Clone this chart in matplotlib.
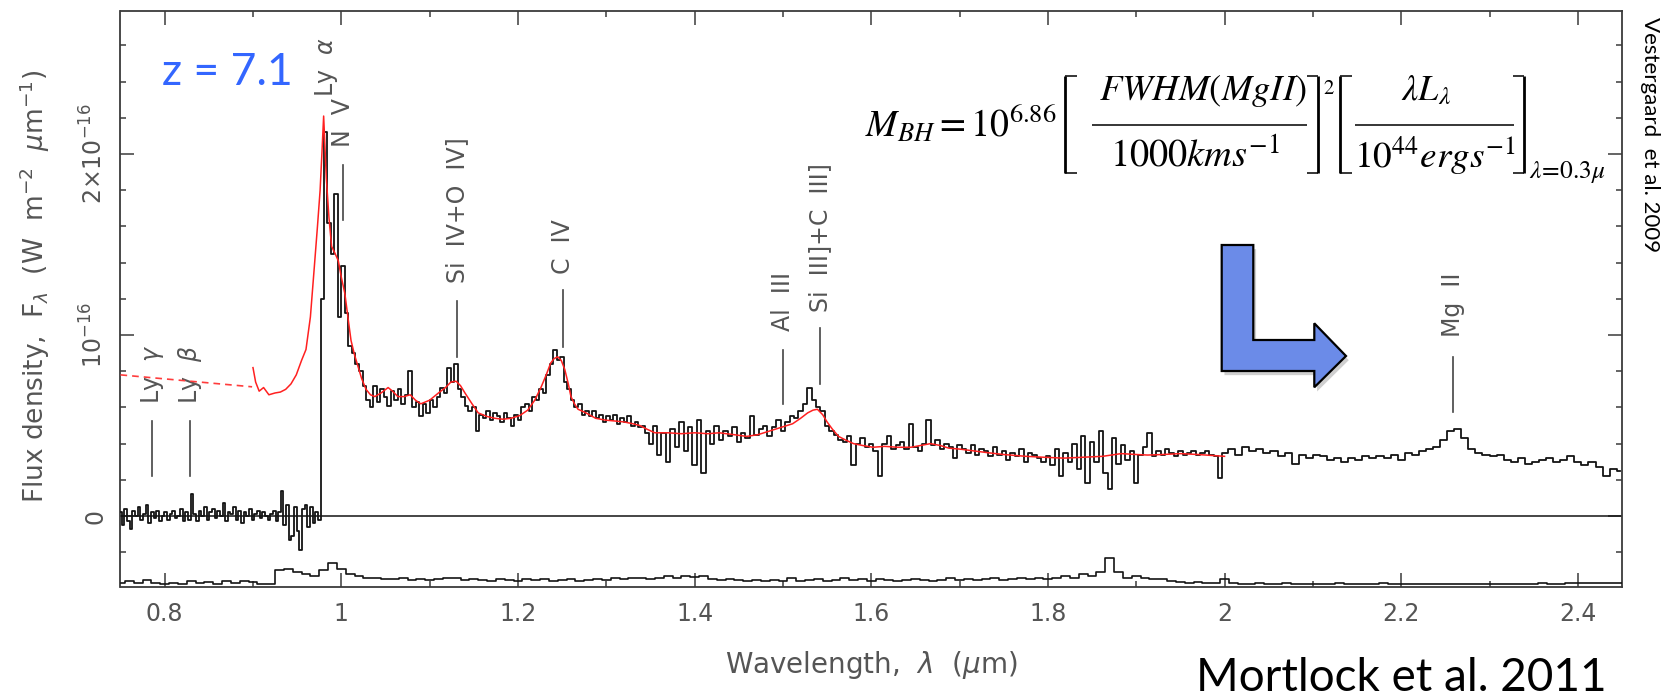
import numpy as np
import matplotlib
matplotlib.use("Agg")
import matplotlib.pyplot as plt
from matplotlib.patches import Polygon
from matplotlib.lines import Line2D
from matplotlib.ticker import MultipleLocator, FixedLocator, FuncFormatter
import matplotlib.patheffects as pe

plt.rcParams['font.family'] = ['DejaVu Sans']
plt.rcParams['mathtext.fontset'] = 'dejavusans'

# ---------------------------------------------------------------------------
# Observed spectrum of the z = 7.1 quasar, F_lambda in units of 1e-16 W m^-2 um^-1
# Each segment: (first wavelength, last wavelength) in um and the binned fluxes.
# ---------------------------------------------------------------------------
opt_range = (0.750, 0.975)
flux_opt = [0.02, -0.05, 0.04, -0.03, -0.07, 0.03, 0.00, 0.05, -0.02, 0.01,
            0.06, -0.04, 0.02, -0.01, 0.03, -0.03, 0.00, 0.02, -0.02, 0.01,
            0.03, -0.01, 0.00, 0.04, -0.03, 0.02, -0.02, 0.12, 0.01, -0.03,
            0.03, 0.00, 0.05, -0.02, 0.02, 0.04, -0.01, 0.03, 0.00, 0.07,
            -0.03, 0.02, 0.01, 0.05, -0.02, 0.03, -0.04, 0.02, 0.00, 0.04,
            -0.02, 0.01, 0.03, -0.01, 0.02, 0.00, -0.02, 0.01, 0.03, -0.03,
            0.02, 0.14, -0.05, 0.06, -0.13, -0.11, 0.05, -0.08, -0.19, 0.04,
            0.06, -0.06, 0.05, -0.04, 0.02, -0.02]

j_range = (0.978, 1.346)
flux_j = [1.20, 2.12, 1.62, 1.45, 1.78, 1.10, 1.38, 1.12, 0.94, 0.90,
          0.84, 0.80, 0.72, 0.64, 0.60, 0.72, 0.63, 0.70, 0.66, 0.61,
          0.69, 0.64, 0.70, 0.62, 0.67, 0.80, 0.60, 0.63, 0.55, 0.62,
          0.57, 0.64, 0.60, 0.66, 0.71, 0.68, 0.82, 0.74, 0.84, 0.70,
          0.66, 0.61, 0.58, 0.60, 0.47, 0.56, 0.54, 0.58, 0.53, 0.57,
          0.55, 0.52, 0.57, 0.54, 0.50, 0.56, 0.53, 0.60, 0.62, 0.58,
          0.66, 0.64, 0.70, 0.68, 0.78, 0.84, 0.92, 0.86, 0.88, 0.74,
          0.70, 0.64, 0.60, 0.62, 0.56, 0.58, 0.55, 0.58, 0.54, 0.56,
          0.52, 0.55, 0.53, 0.56, 0.51, 0.54, 0.52, 0.55, 0.50, 0.52,
          0.49, 0.50, 0.46]

h_range = (1.350, 1.795)
flux_h = [0.40, 0.50, 0.34, 0.46, 0.30, 0.48, 0.38, 0.52, 0.36, 0.49,
          0.28, 0.53, 0.24, 0.47, 0.40, 0.50, 0.42, 0.47, 0.44, 0.49,
          0.41, 0.46, 0.43, 0.55, 0.45, 0.48, 0.50, 0.44, 0.49, 0.53,
          0.47, 0.52, 0.55, 0.54, 0.58, 0.62, 0.71, 0.64, 0.60, 0.58,
          0.50, 0.47, 0.45, 0.42, 0.41, 0.44, 0.28, 0.40, 0.43, 0.38,
          0.40, 0.36, 0.22, 0.40, 0.44, 0.37, 0.39, 0.41, 0.37, 0.51,
          0.38, 0.36, 0.40, 0.53, 0.39, 0.42, 0.37, 0.40, 0.38, 0.32,
          0.39, 0.37, 0.35, 0.39, 0.34, 0.37, 0.36, 0.33, 0.38, 0.34,
          0.36, 0.31, 0.35, 0.33, 0.37, 0.30, 0.35, 0.34, 0.32, 0.30]

k1_range = (1.800, 1.995)
flux_k1 = [0.33, 0.28, 0.37, 0.22, 0.35, 0.30, 0.40, 0.26, 0.44, 0.18,
           0.41, 0.30, 0.47, 0.24, 0.15, 0.43, 0.29, 0.39, 0.31, 0.36,
           0.18, 0.34, 0.38, 0.46, 0.33, 0.36, 0.34, 0.37, 0.35, 0.33,
           0.36, 0.34, 0.35, 0.36, 0.34, 0.35, 0.36, 0.34, 0.33, 0.21]

k2_range = (2.000, 2.448)
flux_k2 = [0.35, 0.37, 0.34, 0.38, 0.36, 0.37, 0.35, 0.36, 0.33, 0.35,
           0.29, 0.34, 0.32, 0.34, 0.33, 0.31, 0.32, 0.30, 0.32, 0.31,
           0.33, 0.32, 0.33, 0.32, 0.34, 0.31, 0.35, 0.34, 0.36, 0.37,
           0.38, 0.42, 0.47, 0.48, 0.43, 0.37, 0.35, 0.34, 0.33, 0.34,
           0.31, 0.30, 0.32, 0.29, 0.30, 0.31, 0.32, 0.30, 0.31, 0.33,
           0.30, 0.28, 0.30, 0.27, 0.22, 0.26, 0.25]

# 1-sigma noise spectrum, drawn along the bottom of the panel
sigma_range = (0.75, 2.45)
sigma = [0.020, 0.030, 0.020, 0.035, 0.020, 0.015, 0.020, 0.015, 0.030, 0.020,
         0.025, 0.015, 0.030, 0.020, 0.030, 0.025, 0.015, 0.015, 0.090, 0.100,
         0.080, 0.070, 0.060, 0.090, 0.130, 0.100, 0.070, 0.060, 0.050, 0.045,
         0.040, 0.040, 0.050, 0.035, 0.040, 0.035, 0.040, 0.050, 0.045, 0.035,
         0.040, 0.035, 0.030, 0.040, 0.035, 0.030, 0.040, 0.035, 0.040, 0.030,
         0.035, 0.040, 0.030, 0.035, 0.040, 0.035, 0.045, 0.040, 0.050, 0.045,
         0.040, 0.050, 0.060, 0.045, 0.060, 0.055, 0.060, 0.040, 0.035, 0.040,
         0.035, 0.030, 0.035, 0.030, 0.035, 0.030, 0.045, 0.030, 0.035, 0.040,
         0.030, 0.035, 0.050, 0.035, 0.040, 0.030, 0.040, 0.035, 0.030, 0.035,
         0.040, 0.035, 0.030, 0.035, 0.045, 0.035, 0.040, 0.035, 0.040, 0.045,
         0.035, 0.040, 0.050, 0.040, 0.045, 0.040, 0.050, 0.060, 0.050, 0.070,
         0.060, 0.080, 0.160, 0.080, 0.050, 0.060, 0.050, 0.040, 0.040, 0.030,
         0.025, 0.020, 0.025, 0.020, 0.020, 0.040, 0.020, 0.015, 0.015, 0.018,
         0.015, 0.015, 0.018, 0.015, 0.015, 0.012, 0.015, 0.015, 0.018, 0.015,
         0.012, 0.015, 0.015, 0.018, 0.015, 0.015, 0.012, 0.015, 0.015, 0.012,
         0.015, 0.012, 0.015, 0.015, 0.012, 0.015, 0.015, 0.012, 0.015, 0.015,
         0.015, 0.018, 0.015, 0.015, 0.020, 0.018, 0.022, 0.020, 0.018, 0.020,
         0.022]
sigma_offset = -0.39

# Composite low-redshift quasar template (red); dashed where it is extrapolated
template_wl = [0.900, 0.903, 0.907, 0.912, 0.918, 0.925, 0.931, 0.937, 0.943, 0.949,
               0.955, 0.960, 0.965, 0.9695, 0.973, 0.976, 0.978, 0.980, 0.983, 0.986,
               0.989, 0.993, 0.9966, 1.000, 1.004, 1.008, 1.011, 1.015, 1.019, 1.023,
               1.028, 1.033, 1.038, 1.045, 1.053, 1.058, 1.064, 1.071, 1.078, 1.084,
               1.090, 1.100, 1.110, 1.118, 1.124, 1.130, 1.135, 1.140, 1.148, 1.155,
               1.165, 1.174, 1.183, 1.192, 1.202, 1.211, 1.219, 1.226, 1.232, 1.237,
               1.241, 1.245, 1.249, 1.253, 1.257, 1.260, 1.264, 1.268, 1.277, 1.288,
               1.299, 1.310, 1.320, 1.330, 1.338, 1.346, 1.355, 1.370, 1.385, 1.400,
               1.415, 1.428, 1.444, 1.459, 1.472, 1.485, 1.498, 1.511, 1.520, 1.528,
               1.534, 1.539, 1.545, 1.550, 1.556, 1.563, 1.571, 1.580, 1.590, 1.602,
               1.615, 1.630, 1.645, 1.656, 1.667, 1.678, 1.688, 1.700, 1.716, 1.732,
               1.750, 1.775, 1.795, 1.818, 1.840, 1.862, 1.883, 1.900, 1.913, 1.930,
               1.950, 1.970, 1.985, 2.000]
template_flux = [0.82, 0.74, 0.69, 0.71, 0.67, 0.68, 0.685, 0.70, 0.73, 0.78,
                 0.86, 0.92, 1.10, 1.38, 1.60, 1.80, 2.00, 2.21, 1.87, 1.65,
                 1.49, 1.45, 1.41, 1.32, 1.23, 1.08, 0.97, 0.89, 0.825, 0.76,
                 0.70, 0.67, 0.66, 0.68, 0.71, 0.69, 0.66, 0.66, 0.67, 0.64,
                 0.62, 0.64, 0.68, 0.71, 0.74, 0.745, 0.72, 0.68, 0.62, 0.57,
                 0.55, 0.54, 0.535, 0.54, 0.555, 0.585, 0.64, 0.71, 0.78, 0.845,
                 0.87, 0.88, 0.86, 0.81, 0.73, 0.66, 0.62, 0.59, 0.57, 0.54,
                 0.53, 0.525, 0.52, 0.51, 0.50, 0.48, 0.46, 0.46, 0.455, 0.46,
                 0.455, 0.46, 0.45, 0.44, 0.45, 0.47, 0.49, 0.51, 0.54, 0.57,
                 0.585, 0.59, 0.56, 0.52, 0.48, 0.44, 0.42, 0.40, 0.39, 0.38,
                 0.385, 0.38, 0.38, 0.39, 0.40, 0.39, 0.375, 0.37, 0.36, 0.35,
                 0.34, 0.33, 0.325, 0.32, 0.325, 0.33, 0.345, 0.34, 0.337, 0.34,
                 0.345, 0.34, 0.335, 0.33]
template_ext_wl = [0.750, 0.899]
template_ext_flux = [0.78, 0.714]

# Emission / absorption line identifications
line_names = ['Ly  $\\gamma$', 'Ly  $\\beta$', 'Ly  $\\alpha$', 'N  V', 'Si  IV+O  IV]',
              'C  IV', 'Al  III', 'Si  III]+C  III]', 'Mg  II']
line_wl = [0.786, 0.829, 0.983, 1.002, 1.131, 1.251, 1.500, 1.542, 2.259]
# (bottom, top) of each identification bar and the height where its label starts
line_bar = [(0.22, 0.525), (0.22, 0.525), None, (1.635, 1.94), (0.88, 1.19),
            (0.935, 1.25), (0.62, 0.92), (0.73, 1.04), (0.576, 0.88)]
line_text_base = [0.62, 0.62, 2.315, 2.04, 1.29, 1.34, 1.02, 1.13, 0.99]

y_major = [0, 1, 2]
y_major_labels = ['0', '$10^{-16}$', '$2{\\times}10^{-16}$']

# ---------------------------------------------------------------------------
W, H = 1668, 699
fig = plt.figure(figsize=(W / 100, H / 100), dpi=100)
ax_l, ax_r, ax_t, ax_b = 120.5, 1622.0, 10.7, 587.0
ax = fig.add_axes([ax_l / W, 1 - ax_b / H, (ax_r - ax_l) / W, (ax_b - ax_t) / H])

def segment(rng, vals):
    return np.linspace(rng[0], rng[1], len(vals)), np.asarray(vals, float)

segs = [segment(opt_range, flux_opt), segment(j_range, flux_j),
        segment(h_range, flux_h), segment(k1_range, flux_k1),
        segment(k2_range, flux_k2)]
wl = np.concatenate([s[0] for s in segs])
flux = np.concatenate([s[1] for s in segs])

sig_wl, sig = segment(sigma_range, sigma)

ink = '#141414'
ax.axhline(0, color=ink, lw=1.1, zorder=2)
ax.plot(wl, flux, drawstyle='steps-mid', color=ink, lw=1.3, zorder=3)
ax.plot(sig_wl, sigma_offset + sig, drawstyle='steps-mid', color=ink, lw=1.2, zorder=3)
ax.plot(template_wl, template_flux, color='#ff2020', lw=1.1, zorder=4)
ax.plot(template_ext_wl, template_ext_flux, color='#ff3c3c', lw=1.2,
        ls=(0, (4, 3)), zorder=4)

label_grey = '#555555'
for name, lw_, bar, base in zip(line_names, line_wl, line_bar, line_text_base):
    if bar is not None:
        ax.plot([lw_, lw_], bar, color='#444444', lw=1.2, zorder=2)
    ax.text(lw_, base, name, rotation=90, ha='center', va='bottom',
            fontsize=17, color=label_grey)

ax.set_xlim(0.75, 2.45)
ax.set_ylim(-0.392, 2.792)

ax.xaxis.set_major_locator(MultipleLocator(0.2))
ax.xaxis.set_minor_locator(MultipleLocator(0.1))
ax.xaxis.set_major_formatter(FuncFormatter(lambda v, p: f'{v:g}'))
ax.yaxis.set_major_locator(FixedLocator(y_major))
ax.set_yticklabels(y_major_labels)
ax.yaxis.set_minor_locator(MultipleLocator(0.2))

spine_c = '#3a3a3a'
for s in ax.spines.values():
    s.set_color(spine_c)
    s.set_linewidth(1.3)
ax.tick_params(which='both', direction='in', top=True, right=True,
               color=spine_c, labelcolor=label_grey)
ax.tick_params(which='major', length=10, width=1.1, labelsize=17)
ax.tick_params(which='minor', length=4.5, width=1.1)
ax.tick_params(axis='x', pad=11)
ax.tick_params(axis='y', pad=9)
for t in ax.get_yticklabels():
    t.set_rotation(90)
    t.set_va('center')

ax.set_xlabel('Wavelength,  $\\lambda$  ($\\mu$m)', fontsize=20, color=label_grey)
ax.xaxis.set_label_coords(0.5, -0.135)
ax.xaxis.label.set_va('center')
ax.set_ylabel('Flux density,  F$_\\lambda$  (W  m$^{-2}$  $\\mu$m$^{-1}$)',
              fontsize=19, color=label_grey)
ax.yaxis.set_label_coords(-0.057, 0.522)
ax.yaxis.label.set_va('center')

# ---------------------------------------------------------------------------
# Annotations (placed in figure pixels, y measured from the top)
# ---------------------------------------------------------------------------
def fx(x):
    return x / W

def fy(y):
    return 1 - y / H

fig.text(fx(162), fy(85), 'z = 7.1', color='#3366ff', fontsize=32,
         family='Lato', ha='left', va='baseline')

# Black-hole mass relation (Vestergaard & Osmer 2009), typeset as a display
# equation: two bracketed fractions with an exponent and an evaluation point.
renderer = fig.canvas.get_renderer()
eq = dict(math_fontfamily='stix', color='black')

def eq_text(x, y, s, width, ha='center', va='baseline', base=26.0):
    """Math text whose size is chosen so that it spans `width` pixels."""
    t = fig.text(fx(x), fy(y), s, fontsize=base, ha=ha, va=va, **eq)
    w = t.get_window_extent(renderer).width
    t.set_fontsize(base * width / w)
    return t

def rule(x0, x1, y, lw=1.1):
    fig.add_artist(Line2D([fx(x0), fx(x1)], [fy(y)] * 2, transform=fig.transFigure,
                          color='black', lw=lw, solid_capstyle='butt'))

def bracket(x_stem, x_tip, top, bottom):
    fig.add_artist(Line2D([fx(x_stem)] * 2, [fy(top), fy(bottom)],
                          transform=fig.transFigure, color='black', lw=2.0,
                          solid_capstyle='butt'))
    rule(x_stem, x_tip, top)
    rule(x_stem, x_tip, bottom)

y_num, y_bar, y_den = 100, 125, 167
br_top, br_bot = 76, 173

eq_text(1057, 137, r'$M_{BH}=10^{6.86}$', 192, ha='right')
bracket(1065, 1077, br_top, br_bot)
eq_text(1203, y_num, r'$FWHM(MgII)$', 208)
rule(1092, 1307, y_bar)
eq_text(1195, y_den, r'$1000kms^{-1}$', 170)
bracket(1318, 1307, br_top, br_bot)
fig.text(fx(1323), fy(88), r'$2$', fontsize=15, ha='left', va='center', **eq)
bracket(1340, 1352, br_top, br_bot)
eq_text(1426, y_num, r'$\lambda L_{\lambda}$', 50)
rule(1355, 1514, y_bar)
eq_text(1435, y_den, r'$10^{44}ergs^{-1}$', 162)
bracket(1524, 1513, br_top, br_bot)
eq_text(1529, 178, r'$\lambda\!=\!0.3\mu$', 76, ha='left')

fig.text(fx(1196), fy(699), 'Mortlock et al. 2011', fontsize=33,
         family='Lato', ha='left', va='bottom', color='black')
fig.text(fx(1650), fy(17), 'Vestergaard  et al. 2009', fontsize=16,
         family='Lato', rotation=-90, ha='center', va='top', color='black')

arrow_px = [(1221.7, 245), (1253.3, 245), (1253.3, 340), (1314.3, 340),
            (1314.3, 323.3), (1346, 356), (1314.3, 387.3), (1314.3, 371),
            (1221.7, 371)]
arrow = Polygon([(fx(x), fy(y)) for x, y in arrow_px], closed=True,
                transform=fig.transFigure, facecolor='#6b8be8',
                edgecolor='black', linewidth=1.6, joinstyle='miter', zorder=10)
arrow.set_path_effects([pe.SimplePatchShadow(offset=(2, -3), shadow_rgbFace='#777777',
                                             alpha=0.35), pe.Normal()])
fig.add_artist(arrow)

fig.savefig('out.png', dpi=100)
